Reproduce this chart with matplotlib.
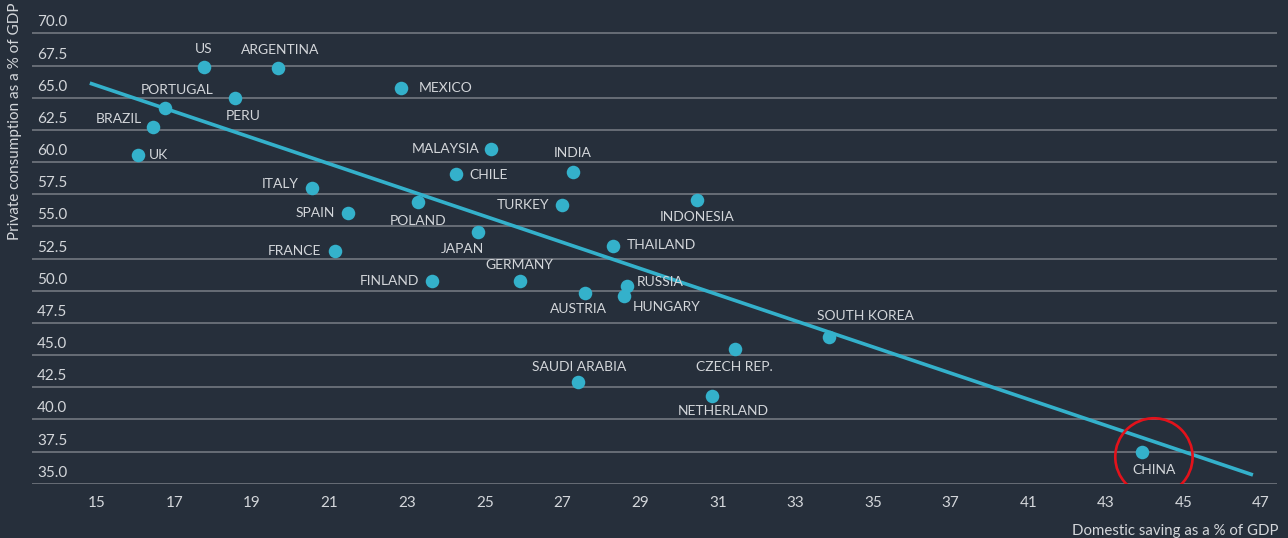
import matplotlib
matplotlib.use("Agg")
import matplotlib.pyplot as plt
from matplotlib.transforms import blended_transform_factory, offset_copy

# Country data (x in axis position units, y = private consumption % of GDP)
countries = ["US", "ARGENTINA", "PORTUGAL", "PERU", "BRAZIL", "UK", "MEXICO",
             "MALAYSIA", "CHILE", "INDIA", "ITALY", "SPAIN", "POLAND", "TURKEY",
             "INDONESIA", "JAPAN", "FRANCE", "THAILAND", "FINLAND", "GERMANY",
             "RUSSIA", "AUSTRIA", "HUNGARY", "SOUTH KOREA", "CZECH REP.",
             "SAUDI ARABIA", "NETHERLAND", "CHINA"]
saving = [17.76, 19.66, 16.75, 18.56, 16.44, 16.06, 22.84,
          25.15, 24.25, 27.27, 20.54, 21.47, 23.27, 26.98,
          30.46, 24.82, 21.13, 28.30, 23.63, 25.90,
          28.66, 27.58, 28.58, 33.87, 31.44,
          27.40, 30.85, 41.93]
consumption = [67.38, 67.30, 64.20, 64.97, 62.72, 60.54, 65.75,
               61.01, 59.07, 59.22, 57.98, 56.04, 56.89, 56.66,
               57.05, 54.56, 53.08, 53.47, 50.75, 50.75,
               50.37, 49.82, 49.59, 46.40, 45.47,
               42.91, 41.82, 37.47]

# label placement: offset in pixels from the point, and alignment
label_dx = [0, 2, 12, 8, -11, 11, 18,
            -11, 14, 0, -13, -13, 0, -12,
            0, -15, -14, 14, -13, -1,
            10, -7, 9, 36, 0,
            1, 11, 12]
label_dy = [18, 18, 18, -18, 8, 0, 0,
            0, -1, 19, 4, 0, -19, 0,
            -17, -17, 0, 1, 0, 16,
            4, -16, -11, 21, -18,
            15, -15, -18]
label_ha = ["center", "center", "center", "center", "right", "left", "left",
            "right", "left", "center", "right", "right", "center", "right",
            "center", "center", "right", "left", "right", "center",
            "left", "center", "left", "center", "center",
            "center", "center", "center"]

# trend line end points
trend_x = [14.82, 44.79]
trend_y = [66.14, 35.68]

xtick_pos = [15, 17, 19, 21, 23, 25, 27, 29, 31, 33, 35, 37, 39, 41, 43, 45]
xtick_labels = ["15", "17", "19", "21", "23", "25", "27", "29", "31", "33",
                "35", "37", "41", "43", "45", "47"]
ytick_vals = [35.0, 37.5, 40.0, 42.5, 45.0, 47.5, 50.0, 52.5, 55.0,
              57.5, 60.0, 62.5, 65.0, 67.5, 70.0]

bg = "#262f3b"
teal = "#34b1cb"
txt = "#d3d6da"
grid = "#6c727b"

plt.rcParams["font.family"] = ["Lato", "DejaVu Sans"]

fig = plt.figure(figsize=(12.88, 5.38), dpi=100, facecolor=bg)
ax = fig.add_axes([32 / 1288, 54.3 / 538, 1245 / 1288, 483.7 / 538])
ax.set_facecolor(bg)
for s in ax.spines.values():
    s.set_visible(False)

ax.set_xlim(13.33, 45.41)
ax.set_ylim(35, 72.6)

for v in ytick_vals:
    ax.axhline(v, color=grid, lw=1.3, zorder=1)

trans = blended_transform_factory(ax.transAxes, ax.transData)
for v in ytick_vals:
    ax.annotate(f"{v:.1f}", xy=(0, v), xycoords=trans, xytext=(5, 4),
                textcoords="offset pixels", ha="left", va="bottom",
                color=txt, fontsize=11)

ax.set_yticks([])
ax.set_xticks(xtick_pos)
ax.set_xticklabels(xtick_labels)
ax.tick_params(axis="x", length=0, pad=9, labelsize=11, labelcolor=txt)

ax.plot(trend_x, trend_y, color=teal, lw=2.6, zorder=2, solid_capstyle="butt")
ax.scatter(saving, consumption, s=95, color=teal, zorder=3, linewidths=0)

for name, x, y, dx, dy, ha in zip(countries, saving, consumption,
                                  label_dx, label_dy, label_ha):
    ax.annotate(name, xy=(x, y), xytext=(dx, dy), textcoords="offset pixels",
                ha=ha, va="center", color=txt, fontsize=10, zorder=4)

# red highlight circle round China
ci = countries.index("CHINA")
circ_tr = offset_copy(ax.transData, fig=fig, x=12, y=-5, units="dots")
ax.scatter([saving[ci]], [consumption[ci]], s=3100, facecolors="none",
           edgecolors="#e3121b", linewidths=1.9, zorder=5, transform=circ_tr)

fig.text(1278 / 1288, 7 / 538, "Domestic saving as a % of GDP", ha="right",
         va="center", color=txt, fontsize=10.8)
fig.text(15 / 1288, 1 - 3 / 538, "Private consumption as a % of GDP",
         rotation=90, ha="center", va="top", color=txt, fontsize=11)

fig.savefig("out.png", dpi=100, facecolor=bg)
